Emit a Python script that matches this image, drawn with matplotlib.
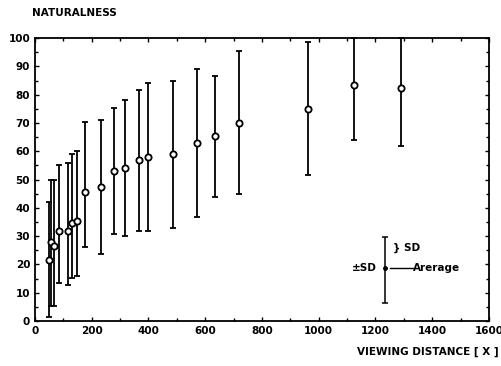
import matplotlib
matplotlib.use("Agg")
import matplotlib.pyplot as plt
from matplotlib.ticker import MultipleLocator

# Data
distance = [50, 57, 67, 86, 115, 129, 149, 176, 232, 277, 317, 368, 399, 486, 571, 635, 718, 961, 1123, 1290]
mean     = [21.5, 27.8, 26.5, 31.8, 31.8, 34.5, 35.4, 45.6, 47.2, 52.9, 54.2, 56.9, 58.0, 59.0, 62.8, 65.5, 70.0, 75.0, 83.3, 82.4]
upper    = [42, 49.8, 50, 55, 56, 59, 60, 70.2, 71, 75.3, 78.2, 81.8, 84.2, 85, 88.9, 86.6, 95.3, 98.5, 100, 100]
lower    = [1.5, 5.3, 5.3, 13.5, 12.6, 15.2, 16, 26.1, 23.6, 30.7, 29.9, 31.8, 31.8, 32.9, 36.7, 43.8, 44.9, 51.7, 63.8, 61.8]

legend_x = [1235]
legend_mean = [18.8]
legend_low = [6.5]
legend_high = [29.7]

xticks = [0, 200, 400, 600, 800, 1000, 1200, 1400, 1600]
yticks = [0, 10, 20, 30, 40, 50, 60, 70, 80, 90, 100]

FS = 7.5

fig = plt.figure(figsize=(5.02, 3.66), dpi=100)
ax = fig.add_axes([0.0697, 0.123, 0.9043, 0.773])

yerr = [[m - l for m, l in zip(mean, lower)], [u - m for m, u in zip(mean, upper)]]
ax.errorbar(distance, mean, yerr=yerr, fmt='o', color='black', ecolor='black',
            elinewidth=1.3, capsize=2.5, capthick=1.3, markersize=4.5,
            markerfacecolor='white', markeredgecolor='black', markeredgewidth=1.3,
            clip_on=False, zorder=3)

lyerr = [[m - l for m, l in zip(legend_mean, legend_low)], [h - m for m, h in zip(legend_mean, legend_high)]]
ax.errorbar(legend_x, legend_mean, yerr=lyerr, fmt='o', color='black', ecolor='black',
            elinewidth=1.1, capsize=2.5, capthick=1.1, markersize=2.5, zorder=3)
ax.plot([1250, 1332], [18.8, 18.8], color='black', lw=1.0)
ax.text(1332, 18.8, 'Arerage', fontsize=FS, fontweight='bold', va='center', ha='left')
ax.text(1205, 18.8, '±SD', fontsize=FS, fontweight='bold', va='center', ha='right')
ax.text(1262, 26, '} SD', fontsize=FS, fontweight='bold', va='center', ha='left')

ax.set_xlim(0, 1600)
ax.set_ylim(0, 100)
ax.set_xticks(xticks)
ax.set_yticks(yticks)
ax.xaxis.set_minor_locator(MultipleLocator(100))
ax.yaxis.set_minor_locator(MultipleLocator(5))
ax.tick_params(axis='both', which='both', direction='in', top=True, right=True,
               labelsize=FS, width=1.0)
ax.tick_params(which='major', length=3)
ax.tick_params(which='minor', length=2)
for lab in ax.get_xticklabels() + ax.get_yticklabels():
    lab.set_fontweight('bold')
for sp in ax.spines.values():
    sp.set_linewidth(1.3)

fig.text(32/502, 1 - 13/366, 'NATURALNESS', fontsize=FS, fontweight='bold', ha='left', va='center')
fig.text(357/502, 1 - 352/366, 'VIEWING DISTANCE [ X ]', fontsize=FS, fontweight='bold', ha='left', va='center')

fig.savefig('out.png', dpi=100)
